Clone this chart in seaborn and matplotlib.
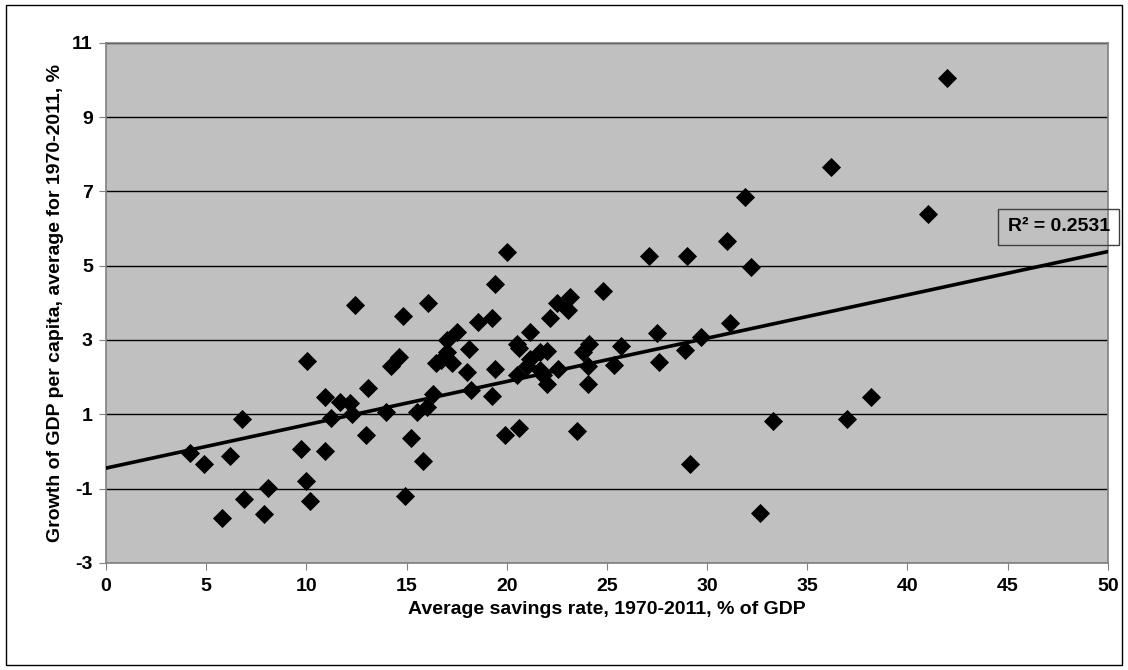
import matplotlib
matplotlib.use("Agg")
import matplotlib.pyplot as plt
import numpy as np
import pandas as pd
import seaborn as sb
from matplotlib.patches import Rectangle

# Values
savings = [4.2, 4.9, 6.2, 6.8, 6.9, 5.8, 8.1, 7.9, 9.75, 10.95, 10.0, 10.2, 10.05,
           10.95, 11.25, 11.7, 12.2, 12.3, 12.45, 13.1, 13.0, 14.0, 14.2, 14.6, 14.8,
           14.9, 15.2, 15.5, 15.8, 16.0, 16.05, 16.3,
           16.45, 16.7, 17.0, 17.0, 17.25, 17.5, 18.0, 18.1, 18.2, 18.55, 19.25, 19.25,
           19.4, 19.4, 19.9, 20.0,
           20.5, 20.6, 20.5, 20.6, 21.15, 21.15, 21.0, 21.65, 21.65, 22.0, 22.0, 21.8,
           22.15, 22.5, 22.55,
           23.05, 23.15, 23.5, 23.8, 24.1, 24.05, 24.05, 24.8, 25.35, 25.7,
           27.1, 27.5, 27.6, 28.9, 29.0, 29.15, 29.7, 31.0, 31.15, 31.9, 32.2, 32.65,
           33.3, 36.2, 37.0, 38.2, 41.05, 42.0]
growth = [-0.05, -0.35, -0.13, 0.86, -1.29, -1.79, -0.98, -1.68, 0.06, 0.02, -0.8, -1.34, 2.43,
          1.47, 0.9, 1.33, 1.3, 1.0, 3.93, 1.7, 0.45, 1.05, 2.3, 2.55, 3.64,
          -1.2, 0.35, 1.05, -0.26, 1.2, 4.0, 1.55,
          2.37, 2.45, 3.0, 2.68, 2.37, 3.22, 2.14, 2.77, 1.65, 3.48, 3.6, 1.5,
          2.23, 4.51, 0.45, 5.38,
          2.9, 0.64, 2.05, 2.78, 3.22, 2.5, 2.3, 2.68, 2.2, 2.7, 1.82, 2.05,
          3.58, 4.0, 2.22,
          3.82, 4.17, 0.55, 2.67, 2.9, 2.3, 1.82, 4.33, 2.33, 2.83,
          5.26, 3.18, 2.42, 2.72, 5.26, -0.33, 3.09, 5.66, 3.47, 6.86, 4.96, -1.66,
          0.83, 7.65, 0.87, 1.47, 6.38, 10.05]
# linear trendline as drawn in the picture (ends at x = 0 and x = 50)
trend_x = [0, 50]
trend_y = [-0.45, 5.38]
x_ticks = list(range(0, 51, 5))
y_ticks = list(range(-3, 12, 2))
r2_label = "R² = 0.2531"

df = pd.DataFrame({"savings": savings, "growth": growth})

plt.rcParams['font.family'] = ['Liberation Sans', 'DejaVu Sans']
plt.rcParams['font.weight'] = 'bold'
plt.rcParams['axes.labelweight'] = 'bold'
plt.rcParams['axes.unicode_minus'] = False
fig = plt.figure(figsize=(11.28, 6.7), dpi=100)
ax = fig.add_axes([0.094, 0.16, 0.888, 0.776])
ax.set_facecolor("#c0c0c0")

sb.lineplot(x=trend_x, y=trend_y, ax=ax, color='black', lw=2.6, zorder=3)
sb.scatterplot(data=df, x="savings", y="growth", ax=ax, marker="D", s=95,
               color="black", edgecolor="black", linewidth=0, zorder=4)

ax.set_xlim(0, 50)
ax.set_ylim(-3, 11)
ax.set_xticks(x_ticks)
ax.set_yticks(y_ticks)
ax.grid(axis='y', color='black', lw=1)
ax.set_axisbelow(True)
for s in ax.spines.values():
    s.set_color('#808080')
    s.set_linewidth(1.2)
ax.tick_params(axis='both', direction='out', length=5, color='#808080',
               labelsize=14)
ax.tick_params(axis='x', pad=6)
ax.tick_params(axis='y', pad=4.5)
ax.set_xlabel("Average savings rate, 1970-2011, % of GDP", fontsize=14,
              fontweight='bold', labelpad=4)
ax.set_ylabel("Growth of GDP per capita, average for 1970-2011, %", fontsize=14,
              fontweight='bold', labelpad=6)

ax.text(0.951, 0.646, r2_label, transform=ax.transAxes, ha='center', va='center',
        fontsize=14, fontweight='bold', clip_on=False, zorder=5,
        bbox=dict(boxstyle='square,pad=0.5', fc='none', ec='#404040', lw=1))

fig.patches.append(Rectangle((0.005, 0.008), 0.99, 0.985, transform=fig.transFigure,
                             fill=False, ec='black', lw=1))
fig.savefig("out.png", dpi=100)
